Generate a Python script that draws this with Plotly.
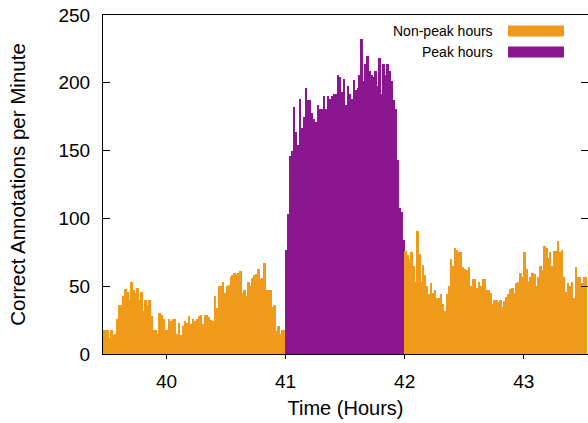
import plotly.graph_objects as go

# Minute-by-minute counts
first_minute = 39 * 60 + 28  # 39:28

nonpeak_before = [18, 18, 18, 12, 18, 14, 15, 26, 36, 36, 43, 48, 46, 40, 53, 47,
                  45, 49, 40, 46, 32, 40, 36, 40, 28, 18, 18, 15, 30, 29, 26, 18,
                  18, 26, 24, 26, 26, 15, 23, 14, 21, 24, 23, 28, 22, 26, 24, 26,
                  28, 29, 22, 29, 29, 27, 25, 24, 43, 34, 50, 50, 53, 45, 50, 51,
                  57, 58, 60, 59, 60, 61, 45, 47, 43, 53, 50, 56, 58, 59, 63, 55,
                  56, 67, 47, 47, 47, 35, 36, 17, 21, 15, 18, 18]

peak = [77, 103, 146, 150, 182, 164, 154, 188, 167, 175, 196, 187, 187, 178, 173,
        171, 184, 181, 181, 190, 181, 190, 188, 190, 192, 192, 206, 204, 193, 203,
        184, 198, 192, 188, 202, 195, 196, 206, 232, 201, 214, 220, 209, 206, 204,
        209, 198, 218, 192, 214, 206, 214, 209, 201, 187, 181, 143, 108, 105, 84]

nonpeak_after = [76, 73, 70, 75, 65, 53, 91, 74, 53, 66, 58, 50, 44, 52, 45, 47,
                 41, 41, 44, 37, 32, 44, 50, 70, 65, 78, 77, 75, 75, 64, 63, 62,
                 64, 50, 55, 55, 49, 53, 50, 55, 55, 47, 47, 45, 37, 40, 40, 38,
                 40, 35, 39, 42, 44, 48, 49, 45, 52, 53, 60, 57, 75, 63, 54, 57,
                 60, 59, 50, 57, 65, 62, 80, 78, 71, 75, 65, 76, 76, 83, 75, 77,
                 57, 46, 52, 50, 53, 41, 64, 57, 57, 52, 57, 57]

x_ticks = [40, 41, 42, 43]
y_ticks = [0, 50, 100, 150, 200, 250]

ORANGE = "#EF9A1A"
PURPLE = "#8A1790"

n1, n2, n3 = len(nonpeak_before), len(peak), len(nonpeak_after)
minutes_before = list(range(first_minute, first_minute + n1))
minutes_peak = list(range(first_minute + n1, first_minute + n1 + n2))
minutes_after = list(range(first_minute + n1 + n2, first_minute + n1 + n2 + n3))


def to_hours(ms):
    return [(m + 0.5) / 60.0 for m in ms]


fig = go.Figure()
w = 1.0 / 60.0
fig.add_trace(go.Bar(x=to_hours(minutes_before), y=nonpeak_before, width=w,
                     marker=dict(color=ORANGE, line=dict(width=0)),
                     name="Non-peak hours", showlegend=False))
fig.add_trace(go.Bar(x=to_hours(minutes_peak), y=peak, width=w,
                     marker=dict(color=PURPLE, line=dict(width=0)),
                     name="Peak hours", showlegend=False))
fig.add_trace(go.Bar(x=to_hours(minutes_after), y=nonpeak_after, width=w,
                     marker=dict(color=ORANGE, line=dict(width=0)),
                     name="Non-peak hours", showlegend=False))

FONT = "Liberation Sans, Arial, sans-serif"

W, H = 588, 423
ML, MR, MT, MB = 103, 0, 15, 69
PW, PH = W - ML - MR, H - MT - MB

fig.update_layout(
    width=W, height=H,
    margin=dict(l=ML, r=MR, t=MT, b=MB, pad=0),
    paper_bgcolor="white", plot_bgcolor="white",
    bargap=0, barmode="overlay",
    font=dict(family=FONT, size=19, color="black"),
    xaxis=dict(
        range=[first_minute / 60.0, 43.54],
        tickvals=x_ticks, ticktext=[str(v) for v in x_ticks],
        ticks="outside", ticklen=4, tickcolor="black",
        showline=True, linecolor="black", linewidth=1, mirror=True,
        showgrid=False, zeroline=False,
        ticklabelstandoff=6,
        title=dict(text="Time (Hours)", font=dict(size=20), standoff=10),
    ),
    yaxis=dict(
        range=[0, 250],
        tickvals=y_ticks,
        ticks="inside", ticklen=7, tickcolor="black",
        showline=True, linecolor="black", linewidth=1, mirror="allticks",
        showgrid=False, zeroline=False,
        ticklabelstandoff=8, ticklabeloverflow="allow",
        title=dict(text="Correct Annotations per Minute", font=dict(size=20.5), standoff=27),
    ),
)

# Gnuplot-style key: text right-aligned, swatch to its right
legend_items = [("Non-peak hours", ORANGE, 31), ("Peak hours", PURPLE, 52)]
for label, color, ypix in legend_items:
    yp = (354 - ypix) / PH
    fig.add_annotation(xref="paper", yref="paper", x=(495 - ML) / PW, y=yp,
                       text=label, showarrow=False, xanchor="right", yanchor="middle",
                       font=dict(family=FONT, size=14, color="black"))
    fig.add_shape(type="rect", xref="paper", yref="paper",
                  x0=(508 - ML) / PW, x1=(564 - ML) / PW,
                  y0=yp - 5.5 / PH, y1=yp + 5.5 / PH,
                  fillcolor=color, line=dict(width=0))

fig.write_html("out.html", config={"displayModeBar": False},
               post_script="document.body.style.margin='0';document.body.style.overflow='hidden';")
